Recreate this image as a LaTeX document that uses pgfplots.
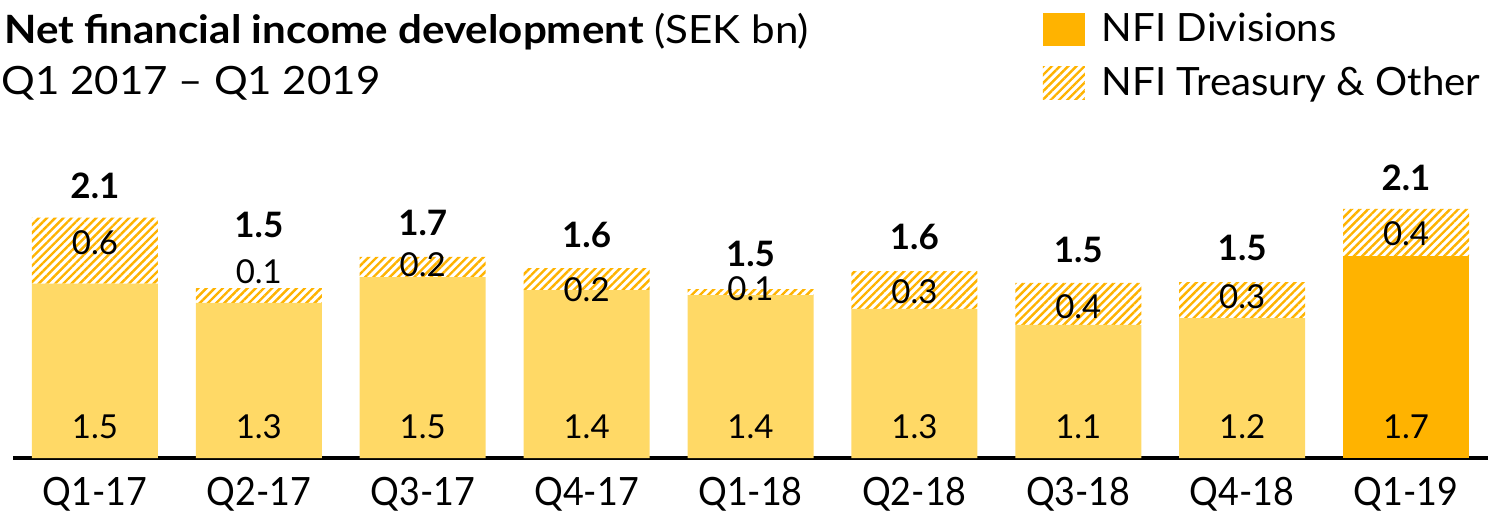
\documentclass[border=0pt]{standalone}
\usepackage{fontspec}
\setmainfont{Lato}
\newfontfamily\titlefont[FakeStretch=1.08]{Lato}
\newfontfamily\tickfont[FakeStretch=0.92]{Lato}
\newfontfamily\legfont[FakeStretch=1.03]{Lato}
\usepackage{pgfplots}
\pgfplotsset{compat=1.18}
\usetikzlibrary{patterns.meta}
\definecolor{pale}{RGB}{255,217,102}
\definecolor{seborange}{RGB}{255,179,0}
\newcommand{\bigfont}{\fontsize{19.5}{22}\selectfont}
\newcommand{\valfont}{\fontsize{16.5}{18}\selectfont}
\newcommand{\totfont}{\fontsize{17.5}{20}\selectfont\bfseries}
\tikzset{vl/.style={font=\valfont}, tl/.style={font=\totfont}}
\begin{document}
\begin{tikzpicture}
\path[use as bounding box] (0,0) rectangle (744pt,-255.5pt);
\node[anchor=base west,inner sep=0,font=\bigfont\titlefont] at (2pt,-21.5pt) {\textbf{Net financial income development} (SEK bn)};
\node[anchor=base west,inner sep=0,font=\bigfont\titlefont] at (0.5pt,-47pt) {Q1 2017 – Q1 2019};
\begin{axis}[
  at={(6.5pt,-229pt)}, anchor=south west,
  scale only axis, width=737.5pt, height=149.5pt,
  xmin=-0.5, xmax=8.5, ymin=0, ymax=2.6,
  ybar stacked, bar width=63pt,
  axis x line*=bottom, axis y line=none,
  x axis line style={line width=2pt,-},
  xtick={0,...,8},
  xticklabels={Q1-17,Q2-17,Q3-17,Q4-17,Q1-18,Q2-18,Q3-18,Q4-18,Q1-19},
  major tick length=0pt,
  xticklabel style={font=\bigfont\tickfont, yshift=-6pt},
  clip=false,
  legend style={at={(0.698,1.495)}, anchor=north west, draw=none, fill=none,
    inner sep=0pt, font=\bigfont\legfont, row sep=9pt,
    nodes={inner sep=1pt},
    /tikz/every odd column/.append style={column sep=7.5pt}},
  legend cell align=left,
]
\addlegendimage{legend image code/.code={\fill[draw=none,fill=seborange] (0pt,-8.25pt) rectangle (21pt,8.25pt);}}
\addlegendentry{NFI Divisions}
\addlegendimage{legend image code/.code={\fill[draw=none,pattern={Lines[angle=45,distance=2.9pt,line width=1.2pt]}, pattern color=seborange] (0pt,-8.25pt) rectangle (21pt,8.25pt);}}
\addlegendentry{NFI Treasury \& Other}
\addplot[fill=pale, draw=none] coordinates {(0,1.517) (1,1.348) (2,1.574) (3,1.461) (4,1.417) (5,1.296) (6,1.157) (7,1.217) (8,0)};
\addplot[fill=seborange, draw=none] coordinates {(0,0) (1,0) (2,0) (3,0) (4,0) (5,0) (6,0) (7,0) (8,1.757)};
\addplot[pattern={Lines[angle=45,distance=2.9pt,line width=1.2pt]}, pattern color=seborange, draw=none] coordinates {(0,0.574) (1,0.13) (2,0.174) (3,0.191) (4,0.052) (5,0.33) (6,0.365) (7,0.313) (8,0.409)};
\coordinate (b0) at (axis cs:0,0.27);
\coordinate (b1) at (axis cs:1,0.27);
\coordinate (b2) at (axis cs:2,0.27);
\coordinate (b3) at (axis cs:3,0.27);
\coordinate (b4) at (axis cs:4,0.27);
\coordinate (b5) at (axis cs:5,0.27);
\coordinate (b6) at (axis cs:6,0.27);
\coordinate (b7) at (axis cs:7,0.27);
\coordinate (b8) at (axis cs:8,0.27);
\coordinate (h0) at (axis cs:0,1.87);
\coordinate (h1) at (axis cs:1,1.62);
\coordinate (h2) at (axis cs:2,1.68);
\coordinate (h3) at (axis cs:3,1.46);
\coordinate (h4) at (axis cs:4,1.47);
\coordinate (h5) at (axis cs:5,1.45);
\coordinate (h6) at (axis cs:6,1.32);
\coordinate (h7) at (axis cs:7,1.40);
\coordinate (h8) at (axis cs:8,1.95);
\coordinate (t0) at (axis cs:0,2.37);
\coordinate (t1) at (axis cs:1,2.03);
\coordinate (t2) at (axis cs:2,2.04);
\coordinate (t3) at (axis cs:3,1.94);
\coordinate (t4) at (axis cs:4,1.77);
\coordinate (t5) at (axis cs:5,1.92);
\coordinate (t6) at (axis cs:6,1.81);
\coordinate (t7) at (axis cs:7,1.83);
\coordinate (t8) at (axis cs:8,2.44);
\end{axis}
\foreach \i/\v in {0/1.5,1/1.3,2/1.5,3/1.4,4/1.4,5/1.3,6/1.1,7/1.2,8/1.7} \node[vl] at (b\i) {\v};
\foreach \i/\v in {0/0.6,1/0.1,2/0.2,3/0.2,4/0.1,5/0.3,6/0.4,7/0.3,8/0.4} \node[vl] at (h\i) {\v};
\foreach \i/\v in {0/2.1,1/1.5,2/1.7,3/1.6,4/1.5,5/1.6,6/1.5,7/1.5,8/2.1} \node[tl] at (t\i) {\v};
\end{tikzpicture}
\end{document}
